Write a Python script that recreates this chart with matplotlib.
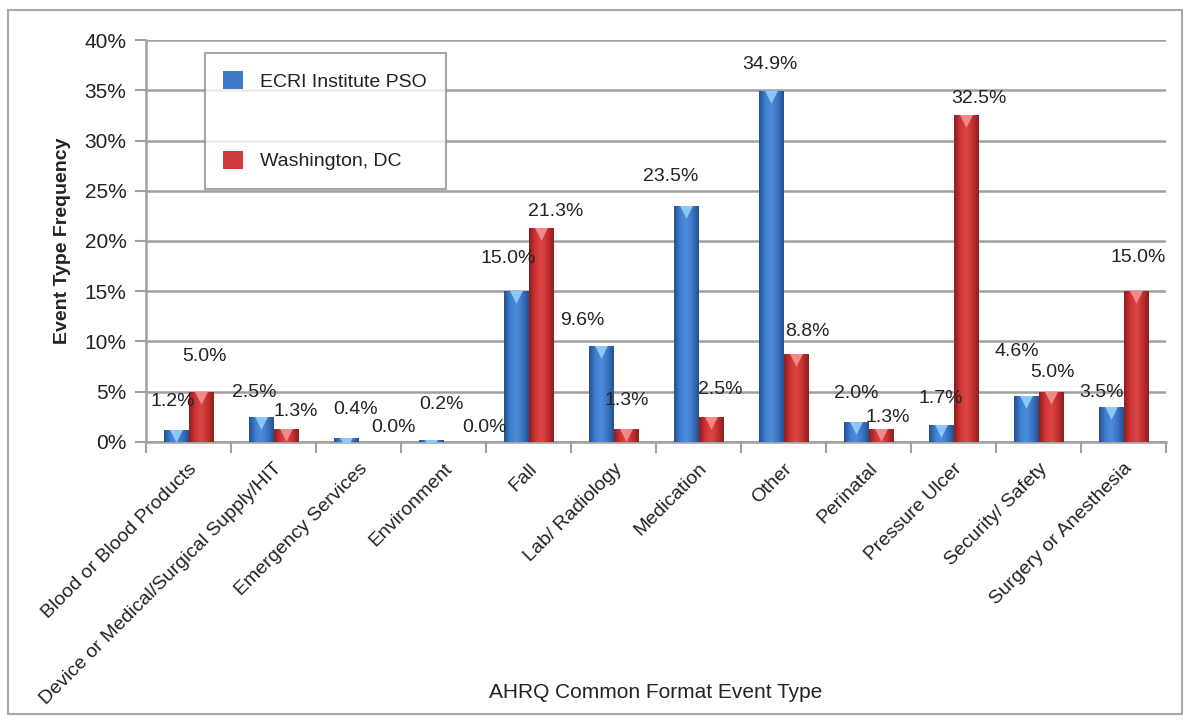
import numpy as np
import matplotlib.pyplot as plt
from matplotlib.colors import LinearSegmentedColormap
from matplotlib.patches import Rectangle
from matplotlib import transforms

# --- data ---
categories = ['Blood or Blood Products', 'Device or Medical/Surgical Supply/HIT',
              'Emergency Services', 'Environment', 'Fall', 'Lab/ Radiology',
              'Medication', 'Other', 'Perinatal', 'Pressure Ulcer',
              'Security/ Safety', 'Surgery or Anesthesia']
ecri = [1.2, 2.5, 0.4, 0.2, 15.0, 9.6, 23.5, 34.9, 2.0, 1.7, 4.6, 3.5]
dc = [5.0, 1.3, 0.0, 0.0, 21.3, 1.3, 2.5, 8.8, 1.3, 32.5, 5.0, 15.0]
yticks = [0, 5, 10, 15, 20, 25, 30, 35, 40]

# label nudges (pixels) - the original labels sit a bit irregularly
ecri_dx = [-3, -7, 9, 10, -8, -19, -15, -1, 0, 0, -9, -10]
ecri_up = [28, 24, 28, 35, 33, 25, 29, 27, 28, 26, 44, 14]
dc_dx = [4, 10, 23, 29, 15, 1, 9, 12, 7, 13, 2, 2]
dc_up = [35, 17, 14, 14, 16, 28, 27, 22, 11, 17, 19, 34]

plt.rcParams['font.family'] = ['Liberation Sans', 'DejaVu Sans']
TXT = '#222222'
GRID = '#a0a0a0'

W, H = 1190, 721
fig = plt.figure(figsize=(W / 100, H / 100), dpi=100)
ax = fig.add_axes([146 / W, 1 - 442 / H, 1020 / W, 402 / H])

x = np.arange(len(categories))
bw = 0.29

blue_cmap = LinearSegmentedColormap.from_list(
    'b', ['#24508f', '#3f7fd0', '#4d8ddb', '#3a74c2', '#24508f'])
red_cmap = LinearSegmentedColormap.from_list(
    'r', ['#8e1e1e', '#cf3434', '#dd4646', '#c43030', '#8e1e1e'])
grad = np.linspace(0, 1, 64).reshape(1, -1)


def shaded_bars(xpos, vals, cmap, tri_color):
    bars = ax.bar(xpos, vals, bw, color='none', edgecolor='none', zorder=3)
    for b in bars:
        x0, w, h = b.get_x(), b.get_width(), b.get_height()
        if h <= 0:
            continue
        im = ax.imshow(grad, cmap=cmap, extent=(x0, x0 + w, 0, h),
                       aspect='auto', zorder=3, interpolation='bicubic')
        im.set_clip_path(b)
        # little bevel triangle at the top of each bar
        tr = transforms.offset_copy(ax.transData, fig=fig, x=0, y=-5, units='dots')
        sc = ax.scatter([x0 + w / 2], [h], marker='v', s=110, color=tri_color,
                        linewidths=0, transform=tr, zorder=4)
        sc.set_clip_path(b)
    return bars


shaded_bars(x - bw / 2, ecri, blue_cmap, '#8fc6f5')
shaded_bars(x + bw / 2, dc, red_cmap, '#f08a8a')

# legend handles
ax.bar([0], [0], color='#3f7bcb', label='ECRI Institute PSO')
ax.bar([0], [0], color='#cc3a3a', label='Washington, DC')

# value labels
for xi, v, dx, up in zip(x - bw / 2, ecri, ecri_dx, ecri_up):
    ax.annotate(f'{v:.1f}%', (xi, v), xytext=(dx, up), textcoords='offset pixels',
                ha='center', va='center', fontsize=14, color=TXT, zorder=6)
for xi, v, dx, up in zip(x + bw / 2, dc, dc_dx, dc_up):
    ax.annotate(f'{v:.1f}%', (xi, v), xytext=(dx, up), textcoords='offset pixels',
                ha='center', va='center', fontsize=14, color=TXT, zorder=6)

ax.set_xlim(-0.5, len(categories) - 0.5)
ax.set_ylim(0, 40)
ax.set_yticks(yticks)
ax.set_yticklabels([f'{t}%' for t in yticks], fontsize=15, color=TXT)
ax.yaxis.grid(True, color=GRID, linewidth=1.8, zorder=0)
ax.set_axisbelow(True)

ax.set_xticks(x)
ax.set_xticklabels(categories, rotation=45, ha='right', rotation_mode='anchor',
                   fontsize=14, color=TXT)
ax.set_xticks(np.arange(-0.5, len(categories)), minor=True)
ax.tick_params(axis='x', which='major', length=0, pad=13)
ax.tick_params(axis='x', which='minor', length=8, width=1.5, color=GRID)
ax.tick_params(axis='y', length=8, width=1.5, color=GRID, pad=6)

for side in ['top', 'right']:
    ax.spines[side].set_visible(False)
for side in ['left', 'bottom']:
    ax.spines[side].set_color(GRID)
    ax.spines[side].set_linewidth(1.8)

ax.set_ylabel('Event Type Frequency', fontsize=14, fontweight='bold', color=TXT,
              labelpad=10)
ax.set_xlabel('AHRQ Common Format Event Type', fontsize=15, color=TXT)
ax.xaxis.set_label_coords(0.5, -0.60)

leg = ax.legend(loc='upper left', bbox_to_anchor=(205 / W, 1 - 53 / H),
                bbox_transform=fig.transFigure, borderaxespad=0, fancybox=False,
                frameon=True, fontsize=14, handlelength=1.0, handleheight=1.0,
                labelspacing=3.1, borderpad=0.95, handletextpad=0.9)
leg.get_frame().set_edgecolor('#909090')
leg.get_frame().set_linewidth(1.5)
leg.set_zorder(7)
for t in leg.get_texts():
    t.set_color(TXT)

# outer border of the picture
fig.patches.append(Rectangle((8 / W, 1 - 714 / H), 1174 / W, 704 / H,
                             transform=fig.transFigure, fill=False,
                             edgecolor='#a8a8a8', linewidth=1.5))

fig.savefig('out.png', dpi=100)
